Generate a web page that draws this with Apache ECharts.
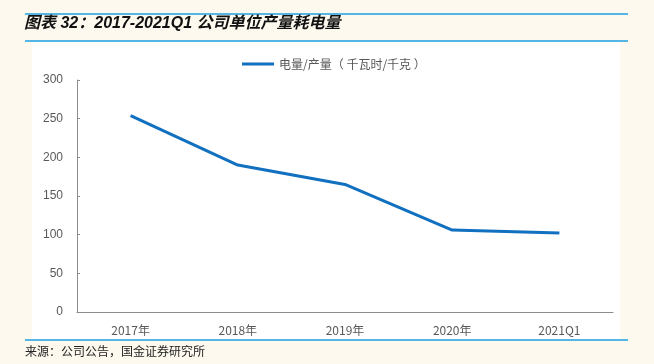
<!DOCTYPE html>
<html>
<head>
<meta charset="utf-8">
<script src="https://cdn.jsdelivr.net/npm/echarts@6/dist/echarts.min.js"></script>
<style>
html,body{margin:0;padding:0;background:#fdf9ef;}
#main{width:654px;height:364px;}
</style>
</head>
<body>
<div id="main"></div>
<script>
var categories = ['2017年', '2018年', '2019年', '2020年', '2021Q1'];
var powerPerOutput = [254, 190, 165, 106, 102];
var seriesName = '电量/产量（ 千瓦时/千克 ）';
var yTicks = [0, 50, 100, 150, 200, 250, 300];

var chart = echarts.init(document.getElementById('main'));
var fontCJK = '"Noto Sans CJK SC", "Liberation Sans", sans-serif';

var xData = categories.map(function (c, i) {
	// 最后一个标签在原图中略高
	if (i == categories.length - 1) {
		return { value: c, textStyle: { padding: [0, 0, 7, 0] } };
	}
	return c;
});

var option = {
	backgroundColor: '#fdf9ef',
	animation: false,
	graphic: [
		{ type: 'rect', shape: { x: 32, y: 42, width: 588, height: 297 }, style: { fill: '#ffffff' }, z: -10 },
		{ type: 'line', shape: { x1: 25, y1: 14, x2: 628, y2: 14 }, style: { stroke: '#1a9fe0', lineWidth: 1.5 } },
		{ type: 'line', shape: { x1: 25, y1: 41, x2: 628, y2: 41 }, style: { stroke: '#1a9fe0', lineWidth: 1.5 } },
		{ type: 'line', shape: { x1: 25, y1: 340, x2: 628, y2: 340 }, style: { stroke: '#1a9fe0', lineWidth: 1.5 } },
		{
			type: 'text', left: 24, top: 16,
			style: {
				text: '图表 32：2017-2021Q1 公司单位产量耗电量',
				font: 'italic bold 16px "Liberation Sans", "Noto Sans CJK SC", sans-serif',
				fill: '#111'
			}
		},
		{
			type: 'text', left: 25, top: 345,
			style: { text: '来源：公司公告，国金证券研究所', font: '12px ' + fontCJK, fill: '#222' }
		}
	],
	legend: {
		top: 53,
		left: 237,
		itemWidth: 32,
		itemHeight: 3,
		itemGap: 4,
		icon: 'rect',
		textStyle: { fontSize: 12, color: '#595959', fontFamily: fontCJK },
		data: [seriesName]
	},
	grid: { left: 77, right: 41, top: 80, bottom: 52 },
	xAxis: {
		type: 'category',
		boundaryGap: true,
		data: xData,
		axisLine: { lineStyle: { color: '#8c8c8c', width: 1 } },
		axisTick: { inside: true, length: 3, lineStyle: { color: '#8c8c8c' } },
		axisLabel: { color: '#595959', fontSize: 12, margin: 12, fontFamily: fontCJK }
	},
	yAxis: {
		type: 'value',
		min: yTicks[0],
		max: yTicks[yTicks.length - 1],
		interval: 50,
		splitLine: { show: false },
		axisLine: { show: true, lineStyle: { color: '#8c8c8c', width: 1 } },
		axisTick: { show: true, inside: true, length: 3, lineStyle: { color: '#8c8c8c' } },
		axisLabel: { color: '#595959', fontSize: 12, margin: 14, fontFamily: '"Liberation Sans", sans-serif' }
	},
	series: [{
		name: seriesName,
		type: 'line',
		data: powerPerOutput,
		showSymbol: false,
		symbol: 'none',
		lineStyle: { color: '#1170bf', width: 3 },
		itemStyle: { color: '#1170bf' }
	}]
};
chart.setOption(option);
window.onresize = chart.resize;
</script>
</body>
</html>
